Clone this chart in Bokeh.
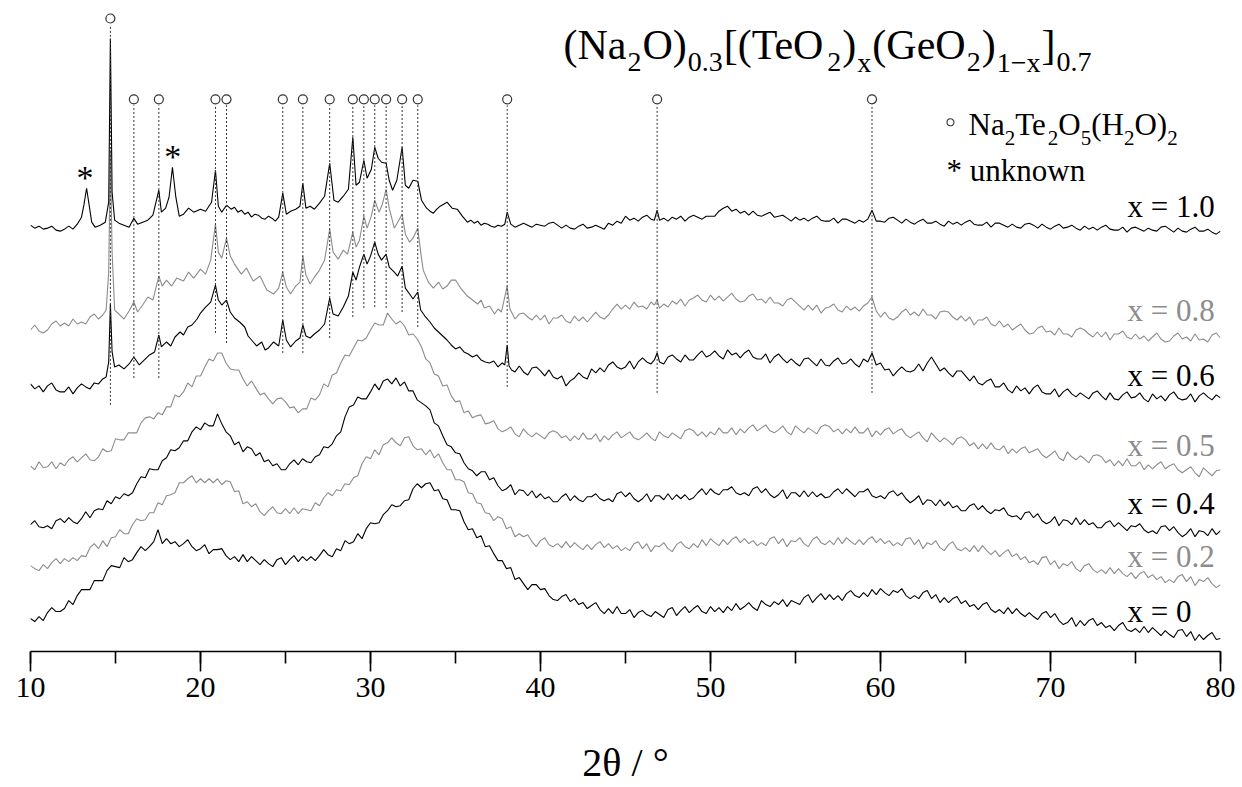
from bokeh.plotting import figure
from bokeh.models import Range1d, SingleIntervalTicker
from bokeh.embed import file_html
from bokeh.resources import INLINE
from bokeh.core.properties import value

# ---------------- data (intensity, a.u., stacked as in the figure) ----------------
two_theta_grid = [10 + 0.25 * i for i in range(281)]

I_x00 = [33, 30, 35, 31, 39, 44, 40, 40, 43, 51, 47, 56, 62, 62, 62, 71, 71, 71, 81, 86,
         85, 84, 94, 90, 92, 99, 105, 101, 105, 110, 122, 108, 113, 108, 110, 105, 108, 112, 105, 101,
         103, 107, 98, 102, 102, 103, 96, 92, 95, 90, 97, 90, 95, 91, 87, 92, 88, 85, 92, 94,
         87, 92, 96, 90, 95, 91, 95, 91, 96, 102, 97, 95, 103, 101, 111, 108, 110, 118, 113, 123,
         129, 128, 129, 137, 141, 147, 145, 146, 151, 152, 163, 168, 164, 168, 169, 161, 162, 153, 152, 142,
         142, 141, 130, 122, 123, 114, 116, 105, 106, 98, 91, 91, 83, 84, 72, 74, 68, 62, 67, 67,
         62, 63, 56, 52, 51, 55, 57, 50, 53, 47, 49, 43, 46, 49, 42, 38, 43, 38, 45, 38,
         38, 42, 34, 39, 41, 37, 35, 40, 37, 34, 42, 44, 36, 41, 45, 39, 43, 46, 40, 38,
         45, 40, 44, 39, 45, 41, 48, 42, 45, 49, 44, 41, 51, 47, 45, 50, 47, 52, 45, 51,
         49, 47, 54, 57, 49, 54, 58, 52, 57, 52, 56, 51, 58, 61, 56, 54, 59, 55, 62, 57,
         63, 59, 56, 61, 59, 63, 56, 53, 56, 53, 59, 61, 53, 57, 49, 54, 49, 53, 55, 48,
         51, 45, 47, 42, 47, 49, 42, 39, 42, 38, 44, 38, 43, 38, 35, 39, 35, 32, 38, 40,
         34, 38, 31, 27, 29, 34, 25, 31, 26, 31, 33, 26, 29, 24, 26, 21, 26, 29, 22, 20,
         23, 19, 25, 19, 24, 20, 16, 21, 17, 14, 21, 22, 15, 20, 11, 17, 12, 16, 19, 12,
         13]

I_x02 = [86, 83, 81, 87, 83, 89, 93, 88, 93, 90, 94, 91, 96, 95, 104, 108, 103, 111, 105, 114,
         115, 122, 118, 118, 127, 133, 131, 132, 139, 139, 149, 147, 156, 157, 159, 169, 169, 173, 176, 169,
         173, 169, 173, 169, 173, 167, 171, 170, 160, 161, 148, 150, 145, 148, 140, 136, 141, 145, 139, 138,
         143, 138, 144, 138, 143, 142, 141, 149, 146, 154, 159, 156, 162, 161, 168, 167, 174, 176, 188, 195,
         193, 202, 197, 207, 209, 214, 209, 206, 214, 215, 206, 202, 203, 197, 202, 194, 198, 189, 182, 182,
         172, 172, 170, 159, 158, 149, 148, 139, 138, 131, 135, 133, 123, 125, 115, 118, 115, 117, 110, 105,
         111, 114, 107, 105, 108, 104, 110, 104, 109, 105, 102, 107, 102, 107, 110, 104, 108, 103, 106, 101,
         104, 101, 108, 110, 103, 108, 100, 106, 105, 109, 103, 100, 107, 110, 105, 103, 108, 104, 112, 106,
         113, 109, 106, 112, 107, 112, 115, 109, 113, 108, 111, 106, 109, 106, 113, 115, 108, 113, 105, 111,
         110, 114, 108, 105, 112, 115, 109, 107, 111, 107, 114, 108, 114, 110, 107, 112, 107, 112, 115, 109,
         113, 108, 111, 106, 109, 106, 113, 114, 107, 112, 103, 109, 107, 111, 104, 101, 107, 110, 103, 101,
         104, 100, 106, 100, 106, 101, 97, 101, 95, 99, 102, 95, 98, 92, 95, 89, 91, 87, 94, 95,
         87, 91, 83, 88, 86, 90, 83, 80, 86, 88, 82, 79, 82, 78, 84, 78, 83, 78, 75, 79,
         73, 78, 80, 74, 77, 72, 75, 69, 72, 69, 75, 77, 70, 75, 66, 72, 70, 74, 68, 64,
         67]

I_x04 = [127, 131, 125, 124, 126, 123, 131, 133, 129, 134, 130, 128, 133, 140, 134, 141, 143, 142, 151, 148,
         155, 153, 158, 156, 159, 168, 175, 174, 183, 182, 182, 191, 194, 202, 201, 204, 211, 211, 220, 225,
         222, 229, 226, 226, 238, 228, 220, 216, 207, 210, 200, 205, 203, 196, 199, 190, 192, 186, 188, 182,
         182, 188, 192, 187, 193, 190, 189, 195, 197, 205, 204, 208, 216, 220, 235, 245, 247, 255, 253, 253,
         260, 268, 262, 271, 273, 268, 274, 266, 270, 261, 261, 252, 249, 246, 242, 229, 226, 216, 207, 205,
         199, 198, 189, 183, 181, 176, 180, 180, 172, 174, 166, 161, 163, 167, 157, 162, 161, 156, 161, 154,
         158, 153, 155, 150, 150, 155, 158, 151, 156, 152, 150, 155, 155, 158, 153, 151, 153, 150, 158, 160,
         155, 159, 153, 150, 153, 158, 150, 156, 156, 152, 158, 152, 157, 153, 157, 152, 154, 159, 163, 157,
         163, 159, 157, 162, 162, 165, 159, 157, 159, 156, 163, 165, 159, 163, 157, 154, 157, 162, 153, 159,
         159, 155, 161, 155, 160, 155, 158, 154, 155, 160, 163, 158, 163, 159, 155, 160, 160, 163, 156, 154,
         156, 153, 159, 161, 156, 159, 153, 149, 152, 156, 147, 152, 151, 146, 152, 146, 150, 144, 146, 141,
         141, 146, 148, 142, 146, 141, 138, 142, 141, 144, 137, 135, 136, 132, 139, 140, 134, 138, 131, 128,
         130, 135, 126, 132, 131, 127, 134, 127, 132, 127, 129, 124, 124, 129, 131, 125, 129, 125, 121, 126,
         125, 128, 122, 119, 121, 118, 125, 126, 121, 125, 119, 115, 118, 123, 115, 121, 120, 116, 123, 117,
         121]

I_x05 = [186, 182, 190, 184, 185, 190, 183, 189, 186, 192, 195, 190, 194, 198, 192, 191, 195, 203, 200, 201,
         213, 212, 212, 219, 219, 219, 229, 234, 235, 233, 239, 237, 245, 245, 257, 255, 260, 269, 265, 276,
         276, 285, 293, 291, 299, 299, 289, 283, 282, 282, 273, 266, 271, 264, 257, 259, 253, 248, 253, 254,
         250, 244, 245, 239, 243, 243, 254, 252, 257, 268, 265, 277, 279, 289, 297, 296, 304, 312, 311, 314,
         322, 329, 327, 327, 339, 333, 328, 331, 326, 317, 318, 313, 305, 293, 289, 278, 276, 266, 267, 256,
         250, 251, 239, 241, 234, 236, 237, 228, 229, 231, 223, 220, 222, 225, 218, 215, 223, 218, 215, 219,
         216, 213, 219, 221, 219, 214, 216, 211, 216, 212, 219, 213, 213, 218, 210, 216, 212, 217, 220, 214,
         217, 220, 214, 212, 215, 219, 214, 211, 220, 216, 214, 219, 216, 213, 221, 223, 221, 216, 220, 215,
         220, 217, 224, 219, 219, 224, 217, 223, 219, 224, 227, 221, 224, 227, 221, 219, 222, 226, 220, 217,
         226, 222, 219, 224, 221, 218, 225, 227, 225, 220, 223, 218, 223, 219, 225, 219, 219, 224, 215, 221,
         217, 222, 224, 218, 221, 223, 217, 214, 217, 220, 214, 210, 219, 214, 210, 214, 211, 207, 213, 215,
         212, 206, 209, 203, 208, 203, 209, 203, 202, 206, 198, 203, 199, 203, 205, 199, 201, 203, 197, 194,
         197, 201, 194, 191, 200, 195, 192, 196, 193, 189, 196, 197, 195, 189, 192, 186, 191, 186, 193, 186,
         186, 190, 182, 187, 183, 187, 190, 183, 186, 188, 182, 179, 182, 185, 179, 175, 184, 180, 176, 181,
         182]

x06_points = [
    (10, 268), (10.25, 263), (10.5, 266), (10.75, 260), (11, 266), (11.25, 269), (11.5, 262), (11.75, 260),
    (12, 260), (12.25, 265), (12.5, 258), (12.75, 264), (13, 268), (13.25, 265), (13.5, 263), (13.75, 269),
    (14, 268), (14.25, 273), (14.45, 275), (14.6, 290), (14.7, 348), (14.8, 300), (14.95, 285), (15.2, 287),
    (15.5, 283), (15.8, 288), (16.08, 295), (16.4, 287), (16.7, 292), (17.0, 297), (17.3, 300), (17.55, 317),
    (17.7, 305), (18.0, 310), (18.25, 306), (18.5, 315), (18.8, 320), (19.0, 317), (19.25, 325), (19.5, 327),
    (19.8, 333), (20.0, 339), (20.3, 345), (20.6, 350), (20.88, 367), (21.05, 352), (21.25, 347), (21.53, 352),
    (21.75, 340), (22.0, 334), (22.3, 330), (22.6, 325), (22.8, 316), (23.0, 312), (23.3, 306), (23.6, 310),
    (23.8, 302), (24.0, 304), (24.3, 310), (24.6, 306), (24.84, 332), (25.05, 312), (25.3, 305), (25.6, 311),
    (25.85, 314), (26.02, 327), (26.2, 316), (26.45, 314), (26.7, 318), (27.0, 322), (27.3, 328), (27.6, 354),
    (27.8, 338), (28.1, 336), (28.4, 345), (28.7, 356), (28.96, 380), (29.15, 372), (29.35, 385), (29.61, 398),
    (29.8, 388), (30.0, 396), (30.25, 410), (30.45, 398), (30.65, 392), (30.92, 398), (31.1, 385), (31.4, 380),
    (31.6, 376), (31.86, 386), (32.05, 364), (32.3, 358), (32.5, 353), (32.78, 360), (32.95, 342), (33.2, 336),
    (33.5, 330), (33.75, 324), (34.0, 320), (34.25, 316), (34.5, 312), (34.75, 307), (35.0, 303), (35.25, 305),
    (35.5, 300), (35.75, 298), (36.0, 295), (36.25, 297), (36.5, 292), (36.75, 290), (37.0, 289), (37.25, 291),
    (37.5, 285), (37.75, 289), (37.9, 287), (38.04, 307), (38.15, 286), (38.3, 282), (38.5, 280), (38.75, 286),
    (39, 280), (39.25, 277), (39.5, 284), (39.75, 285), (40, 281), (40.25, 276), (40.5, 282), (40.75, 275),
    (41, 273), (41.25, 276), (41.5, 266), (41.75, 271), (42, 274), (42.25, 279), (42.5, 275), (42.75, 273),
    (43, 283), (43.25, 279), (43.5, 284), (43.75, 280), (44, 287), (44.25, 290), (44.5, 285), (44.75, 283),
    (45, 285), (45.25, 291), (45.5, 283), (45.75, 290), (46, 294), (46.25, 290), (46.5, 288), (46.7, 292),
    (46.86, 299), (47.0, 290), (47.25, 288), (47.5, 295), (47.75, 297), (48, 293), (48.25, 290), (48.5, 297),
    (48.75, 292), (49, 292), (49.25, 297), (49.5, 301), (49.75, 295), (50, 297), (50.25, 301), (50.5, 296),
    (50.75, 293), (51, 302), (51.25, 297), (51.5, 299), (51.75, 294), (52, 299), (52.25, 302), (52.5, 295),
    (52.75, 293), (53, 293), (53.25, 298), (53.5, 289), (53.75, 295), (54, 298), (54.25, 293), (54.5, 289),
    (54.75, 293), (55, 289), (55.25, 286), (55.5, 293), (55.75, 294), (56, 290), (56.25, 286), (56.5, 293),
    (56.75, 287), (57, 286), (57.25, 291), (57.5, 294), (57.75, 288), (58, 289), (58.25, 293), (58.5, 288),
    (58.75, 285), (59, 293), (59.25, 290), (59.5, 299), (59.75, 287), (60, 289), (60.25, 282), (60.5, 283),
    (60.75, 276), (61, 281), (61.25, 285), (61.5, 281), (61.75, 280), (62, 282), (62.25, 288), (62.5, 281),
    (62.75, 289), (63, 295), (63.25, 288), (63.5, 281), (63.75, 284), (64, 279), (64.25, 275), (64.5, 281),
    (64.75, 281), (65, 276), (65.25, 271), (65.5, 276), (65.75, 269), (66, 267), (66.25, 271), (66.5, 273),
    (66.75, 265), (67, 265), (67.25, 269), (67.5, 262), (67.75, 259), (68, 266), (68.25, 261), (68.5, 264),
    (68.75, 258), (69, 264), (69.25, 267), (69.5, 260), (69.75, 258), (70, 258), (70.25, 263), (70.5, 255),
    (70.75, 260), (71, 263), (71.25, 258), (71.5, 255), (71.75, 259), (72, 256), (72.25, 253), (72.5, 259),
    (72.75, 261), (73, 256), (73.25, 252), (73.5, 259), (73.75, 253), (74, 252), (74.25, 257), (74.5, 260),
    (74.75, 254), (75, 255), (75.25, 259), (75.5, 253), (75.75, 250), (76, 258), (76.25, 253), (76.5, 256),
    (76.75, 251), (77, 257), (77.25, 260), (77.5, 254), (77.75, 252), (78, 253), (78.25, 258), (78.5, 250),
    (78.75, 256), (79, 259), (79.25, 255), (79.5, 252), (79.75, 257), (80, 254)]

x08_points = [
    (10, 322), (10.25, 327), (10.5, 321), (10.75, 319), (11, 322), (11.25, 328), (11.5, 331), (11.75, 326),
    (12, 329), (12.25, 326), (12.5, 333), (12.75, 328), (13, 330), (13.25, 328), (13.5, 335), (13.75, 338),
    (14, 333), (14.25, 337), (14.45, 342), (14.6, 380), (14.7, 502), (14.8, 400), (14.95, 342), (15.2, 338),
    (15.5, 333), (15.8, 341), (16.08, 350), (16.3, 340), (16.6, 347), (16.9, 355), (17.2, 352), (17.55, 376),
    (17.75, 366), (18.0, 372), (18.3, 366), (18.6, 374), (19.0, 371), (19.3, 380), (19.6, 374), (20.0, 383),
    (20.3, 378), (20.6, 392), (20.88, 428), (21.05, 400), (21.25, 394), (21.53, 414), (21.75, 396), (22.0, 388),
    (22.4, 378), (22.7, 384), (23.1, 371), (23.5, 376), (23.9, 362), (24.3, 358), (24.6, 364), (24.84, 380),
    (25.05, 365), (25.3, 358), (25.6, 366), (25.85, 370), (26.02, 396), (26.2, 377), (26.45, 368), (26.7, 375),
    (27.0, 382), (27.3, 392), (27.6, 423), (27.8, 400), (28.1, 393), (28.4, 402), (28.65, 398), (28.96, 420),
    (29.15, 405), (29.35, 412), (29.61, 436), (29.8, 424), (30.05, 436), (30.25, 452), (30.5, 440), (30.7, 448),
    (30.92, 463), (31.1, 444), (31.4, 424), (31.6, 430), (31.86, 438), (32.05, 418), (32.3, 410), (32.5, 414),
    (32.78, 424), (32.95, 400), (33.1, 382), (33.4, 370), (33.7, 364), (34.0, 370), (34.25, 363), (34.5, 366),
    (34.75, 372), (35.0, 372), (35.3, 364), (35.5, 360), (35.7, 356), (36.0, 352), (36.3, 348), (36.5, 352),
    (36.7, 344), (37.0, 346), (37.3, 338), (37.5, 343), (37.7, 340), (38.04, 366), (38.2, 343), (38.5, 333),
    (38.75, 338), (39, 339), (39.25, 335), (39.5, 332), (39.75, 337), (40, 332), (40.25, 337), (40.5, 328),
    (40.75, 334), (41, 334), (41.25, 337), (41.5, 331), (41.75, 329), (42, 336), (42.25, 331), (42.5, 335),
    (42.75, 330), (43, 335), (43.25, 340), (43.5, 335), (43.75, 333), (44, 337), (44.25, 343), (44.5, 348),
    (44.75, 343), (45, 347), (45.25, 343), (45.5, 350), (45.75, 345), (46, 346), (46.25, 343), (46.5, 350),
    (46.7, 347), (46.86, 352), (47.0, 344), (47.25, 348), (47.5, 345), (47.75, 351), (48, 348), (48.25, 353),
    (48.5, 346), (48.75, 352), (49, 354), (49.25, 357), (49.5, 352), (49.75, 350), (50, 357), (50.25, 352),
    (50.5, 356), (50.75, 351), (51, 355), (51.25, 359), (51.5, 353), (51.75, 350), (52, 351), (52.25, 356),
    (52.5, 358), (52.75, 352), (53, 353), (53.25, 349), (53.5, 355), (53.75, 349), (54, 349), (54.25, 346),
    (54.5, 352), (54.75, 354), (55, 350), (55.25, 346), (55.5, 342), (55.75, 347), (56, 342), (56.25, 347),
    (56.5, 339), (56.75, 344), (57, 345), (57.25, 348), (57.5, 342), (57.75, 340), (58, 346), (58.25, 342),
    (58.5, 345), (58.75, 341), (59, 346), (59.25, 349), (59.5, 355), (59.75, 341), (60, 335), (60.25, 340),
    (60.5, 334), (60.75, 332), (61, 335), (61.25, 340), (61.5, 343), (61.75, 337), (62, 340), (62.25, 336),
    (62.5, 343), (62.75, 337), (63, 337), (63.25, 333), (63.5, 340), (63.75, 341), (64, 340), (64.25, 335),
    (64.5, 332), (64.75, 336), (65, 331), (65.25, 335), (65.5, 327), (65.75, 332), (66, 332), (66.25, 335),
    (66.5, 328), (66.75, 326), (67, 331), (67.25, 325), (67.5, 328), (67.75, 322), (68, 325), (68.25, 328),
    (68.5, 322), (68.75, 318), (69, 319), (69.25, 324), (69.5, 326), (69.75, 320), (70, 321), (70.25, 317),
    (70.5, 324), (70.75, 318), (71, 318), (71.25, 315), (71.5, 322), (71.75, 324), (72, 322), (72.25, 318),
    (72.5, 315), (72.75, 320), (73, 315), (73.25, 320), (73.5, 312), (73.75, 318), (74, 318), (74.25, 321),
    (74.5, 315), (74.75, 313), (75, 318), (75.25, 313), (75.5, 316), (75.75, 311), (76, 315), (76.25, 319),
    (76.5, 313), (76.75, 310), (77, 311), (77.25, 316), (77.5, 319), (77.75, 313), (78, 315), (78.25, 311),
    (78.5, 318), (78.75, 312), (79, 313), (79.25, 310), (79.5, 317), (79.75, 319), (80, 314)]

x10_points = [
    (10, 427), (10.25, 424), (10.5, 426), (10.75, 423), (11, 424), (11.25, 426), (11.5, 422), (11.75, 421),
    (12, 423), (12.25, 426), (12.5, 423), (12.75, 428), (13.0, 435), (13.15, 448), (13.3, 464), (13.45, 447),
    (13.6, 430), (13.8, 425), (14.1, 427), (14.4, 430), (14.6, 450), (14.7, 614), (14.8, 460), (14.95, 432),
    (15.2, 429), (15.5, 427), (15.8, 425), (16.08, 434), (16.3, 428), (16.6, 430), (16.9, 432), (17.2, 437),
    (17.55, 462), (17.7, 440), (17.95, 444), (18.15, 455), (18.35, 485), (18.55, 455), (18.75, 436), (19.0, 438),
    (19.3, 444), (19.6, 440), (20.0, 443), (20.3, 441), (20.65, 450), (20.88, 482), (21.05, 446), (21.25, 440),
    (21.53, 447), (21.8, 443), (22.0, 445), (22.2, 440), (22.4, 442), (22.6, 438), (22.8, 440), (23.0, 435),
    (23.2, 438), (23.4, 437), (23.6, 434), (23.8, 433), (24.0, 436), (24.2, 434), (24.4, 431), (24.6, 435),
    (24.84, 459), (25.05, 438), (25.3, 441), (25.6, 443), (25.85, 446), (26.02, 469), (26.2, 444), (26.45, 446),
    (26.7, 443), (27.0, 449), (27.3, 456), (27.6, 489), (27.85, 452), (28.1, 450), (28.4, 456), (28.7, 463),
    (28.96, 515), (29.15, 467), (29.35, 470), (29.61, 492), (29.8, 474), (30.05, 483), (30.25, 505), (30.45, 494),
    (30.65, 490), (30.92, 489), (31.1, 472), (31.3, 462), (31.55, 472), (31.86, 505), (32.05, 467), (32.25, 464),
    (32.5, 472), (32.78, 471), (33.0, 452), (33.3, 444), (33.5, 441), (33.7, 439), (33.9, 443), (34.1, 446),
    (34.3, 448), (34.5, 450), (34.8, 444), (35.1, 443), (35.4, 436), (35.7, 430), (35.9, 432), (36.1, 429),
    (36.3, 431), (36.5, 427), (36.7, 429), (36.9, 428), (37.1, 426), (37.3, 425), (37.5, 427), (37.7, 426),
    (37.9, 428), (38.04, 440), (38.25, 428), (38.5, 425), (38.75, 427), (39, 429), (39.25, 427), (39.5, 425),
    (39.75, 428), (40, 427), (40.25, 426), (40.5, 429), (40.75, 430), (41, 427), (41.25, 424), (41.5, 427),
    (41.75, 424), (42, 423), (42.25, 426), (42.5, 428), (42.75, 424), (43, 425), (43.25, 427), (43.5, 425),
    (43.75, 423), (44, 429), (44.25, 427), (44.5, 431), (44.75, 429), (45, 436), (45.25, 432), (45.5, 434),
    (45.75, 431), (46, 435), (46.25, 437), (46.5, 433), (46.7, 432), (46.86, 442), (47.0, 432), (47.25, 434),
    (47.5, 431), (47.75, 435), (48, 433), (48.25, 436), (48.5, 431), (48.75, 435), (49, 437), (49.25, 435),
    (49.5, 433), (49.75, 436), (50, 436), (50.25, 436), (50.5, 441), (50.75, 444), (51, 446), (51.25, 441),
    (51.5, 443), (51.75, 439), (52, 441), (52.25, 437), (52.5, 441), (52.75, 437), (53, 436), (53.25, 438),
    (53.5, 440), (53.75, 435), (54, 436), (54.25, 437), (54.5, 434), (54.75, 431), (55, 435), (55.25, 432),
    (55.5, 434), (55.75, 431), (56, 434), (56.25, 436), (56.5, 432), (56.75, 431), (57, 431), (57.25, 434),
    (57.5, 429), (57.75, 433), (58, 433), (58.25, 431), (58.5, 429), (58.75, 432), (59, 430), (59.25, 433),
    (59.5, 442), (59.75, 431), (60, 431), (60.25, 430), (60.5, 434), (60.75, 435), (61, 432), (61.25, 429),
    (61.5, 433), (61.75, 430), (62, 428), (62.25, 431), (62.5, 433), (62.75, 429), (63, 429), (63.25, 431),
    (63.5, 428), (63.75, 426), (64, 431), (64.25, 428), (64.5, 430), (64.75, 427), (65, 430), (65.25, 432),
    (65.5, 428), (65.75, 427), (66, 427), (66.25, 430), (66.5, 425), (66.75, 429), (67, 429), (67.25, 427),
    (67.5, 425), (67.75, 428), (68, 425), (68.25, 424), (68.5, 428), (68.75, 429), (69, 427), (69.25, 424),
    (69.5, 428), (69.75, 425), (70, 423), (70.25, 426), (70.5, 428), (70.75, 424), (71, 425), (71.25, 427),
    (71.5, 424), (71.75, 422), (72, 426), (72.25, 423), (72.5, 425), (72.75, 422), (73, 425), (73.25, 427),
    (73.5, 423), (73.75, 422), (74, 422), (74.25, 425), (74.5, 420), (74.75, 424), (75, 425), (75.25, 423),
    (75.5, 421), (75.75, 424), (76, 422), (76.25, 421), (76.5, 425), (76.75, 426), (77, 423), (77.25, 420),
    (77.5, 424), (77.75, 421), (78, 420), (78.25, 423), (78.5, 425), (78.75, 421), (79, 421), (79.25, 423),
    (79.5, 420), (79.75, 418), (80, 421)]

series_labels = ["x = 1.0", "x = 0.8", "x = 0.6", "x = 0.5", "x = 0.4", "x = 0.2", "x = 0"]

# Na2Te2O5(H2O)2 reflections and the lower end of their marker lines
ref_peaks = [14.7, 16.08, 17.55, 20.88, 21.53, 24.84, 26.02, 27.6, 28.96, 29.61,
             30.25, 30.92, 31.86, 32.78, 38.04, 46.86, 59.5]
ref_line_bottom = [247, 274, 274, 319, 309, 299, 299, 314, 335, 344,
                   345, 344, 340, 325, 265, 259, 259]
unknown_peaks = [13.2, 18.37]

title_runs = [("(Na", 0), ("2", 1), ("O)", 0), ("0.3", 1), ("[(TeO", 0), ("2", 1), (")", 0),
              ("x", 1), ("(GeO", 0), ("2", 1), (")", 0), ("1\u2212x", 1), ("]", 0), ("0.7", 1)]
legend_runs = [("Na", 0), ("2", 1), ("Te", 0), ("2", 1), ("O", 0), ("5", 1), ("(H", 0),
               ("2", 1), ("O)", 0), ("2", 1)]
legend_unknown = "* unknown"
x_axis_title = "2\u03b8 / \u00b0"

# ---------------- style ----------------
FONT = "Liberation Serif"
BLACK = "#000000"
GRAY = "#8c8c8c"
TIMES_W = {'(': .333, ')': .333, '[': .333, ']': .333, 'N': .722, 'a': .444, 'O': .722,
           'T': .611, 'e': .444, 'G': .722, 'H': .722, 'x': .5, '.': .25, '\u2212': .564,
           ' ': .25}
BASE_SHIFT = 0.37   # em offset so that the text sits on the intended baseline


def px2x(px):
    return 10 + (px - 30) / 17.0


def py2y(py):
    return 652 - py


def base_y(py, size):
    return py2y(py - BASE_SHIFT * size)


p = figure(width=1242, height=787, x_range=Range1d(10, 80), y_range=Range1d(0, 644),
           output_backend="svg", toolbar_location=None, y_axis_location=None,
           min_border_left=30, min_border_right=22, min_border_top=8, min_border_bottom=135)
p.outline_line_color = None
p.xgrid.grid_line_color = None
p.ygrid.grid_line_color = None
p.background_fill_color = "white"
p.border_fill_color = "white"

ax = p.xaxis[0]
ax.ticker = SingleIntervalTicker(interval=10, num_minor_ticks=2)
ax.major_tick_out = 20
ax.major_tick_in = 0
ax.minor_tick_out = 12
ax.minor_tick_in = 0
for attr in ("axis_line", "major_tick_line", "minor_tick_line"):
    setattr(ax, attr + "_width", 1.6)
    setattr(ax, attr + "_color", "black")
ax.major_label_text_font = FONT
ax.major_label_text_font_size = "30px"
ax.major_label_text_color = "black"
ax.major_label_standoff = 6
ax.axis_label = x_axis_title
ax.axis_label_text_font = FONT
ax.axis_label_text_font_size = "40px"
ax.axis_label_text_font_style = "normal"
ax.axis_label_text_color = "black"
ax.axis_label_standoff = 40

# traces, bottom to top
trace_sets = [
    (two_theta_grid, I_x00, BLACK),
    (two_theta_grid, I_x02, GRAY),
    (two_theta_grid, I_x04, BLACK),
    (two_theta_grid, I_x05, GRAY),
    ([a for a, b in x06_points], [b for a, b in x06_points], BLACK),
    ([a for a, b in x08_points], [b for a, b in x08_points], GRAY),
    ([a for a, b in x10_points], [b for a, b in x10_points], BLACK),
]
for xs, ys, col in trace_sets:
    p.line(xs, ys, line_color=col, line_width=1.1)

# reference marker lines + circles
line_top = [py2y(25)] + [py2y(105)] * (len(ref_peaks) - 1)
marker_y = [py2y(18)] + [py2y(99)] * (len(ref_peaks) - 1)
p.segment(x0=ref_peaks, y0=ref_line_bottom, x1=ref_peaks, y1=line_top,
          line_color="#333333", line_width=1, line_dash="2 2")
p.scatter(ref_peaks, marker_y, marker="circle", size=9, fill_color=None,
          line_color="#333333", line_width=1.2)

# unknown asterisks
p.text(x=unknown_peaks, y=[base_y(190, 34), base_y(169, 34)], text=["*", "*"],
       text_font=value(FONT), text_font_size="34px", text_align="center",
       text_baseline="alphabetic", text_color="black")

# series labels
label_base = [218, 322, 387, 457, 515, 568, 623]
label_col = [BLACK, GRAY, BLACK, GRAY, BLACK, GRAY, BLACK]
p.text(x=[px2x(1127)] * len(series_labels), y=[base_y(b, 31) for b in label_base], text=series_labels,
       text_font=value(FONT), text_font_size="31px", text_align="left",
       text_baseline="alphabetic", text_color=label_col)


def draw_runs(runs, x0, base, main_size, sub_size, drop, gap):
    x = x0
    for txt, sub in runs:
        size = sub_size if sub else main_size
        yb = base + (drop if sub else 0)
        p.text(x=[px2x(x)], y=[base_y(yb, size)], text=[txt], text_font=value(FONT),
               text_font_size=f"{size}px", text_align="left", text_baseline="alphabetic",
               text_color="black")
        x += sum(TIMES_W.get(c, 0.5) for c in txt) * size + gap


draw_runs(title_runs, 563, 60, 42, 28, 12, 1)
draw_runs(legend_runs, 968, 136, 31, 21, 9, 0)

p.scatter([px2x(950)], [py2y(122)], marker="circle", size=7, fill_color=None,
          line_color="#333333", line_width=1.1)
p.text(x=[px2x(946)], y=[base_y(182, 31)], text=[legend_unknown], text_font=value(FONT),
       text_font_size="31px", text_align="left", text_baseline="alphabetic", text_color="black")

open("out.html", "w").write(file_html(p, INLINE))
